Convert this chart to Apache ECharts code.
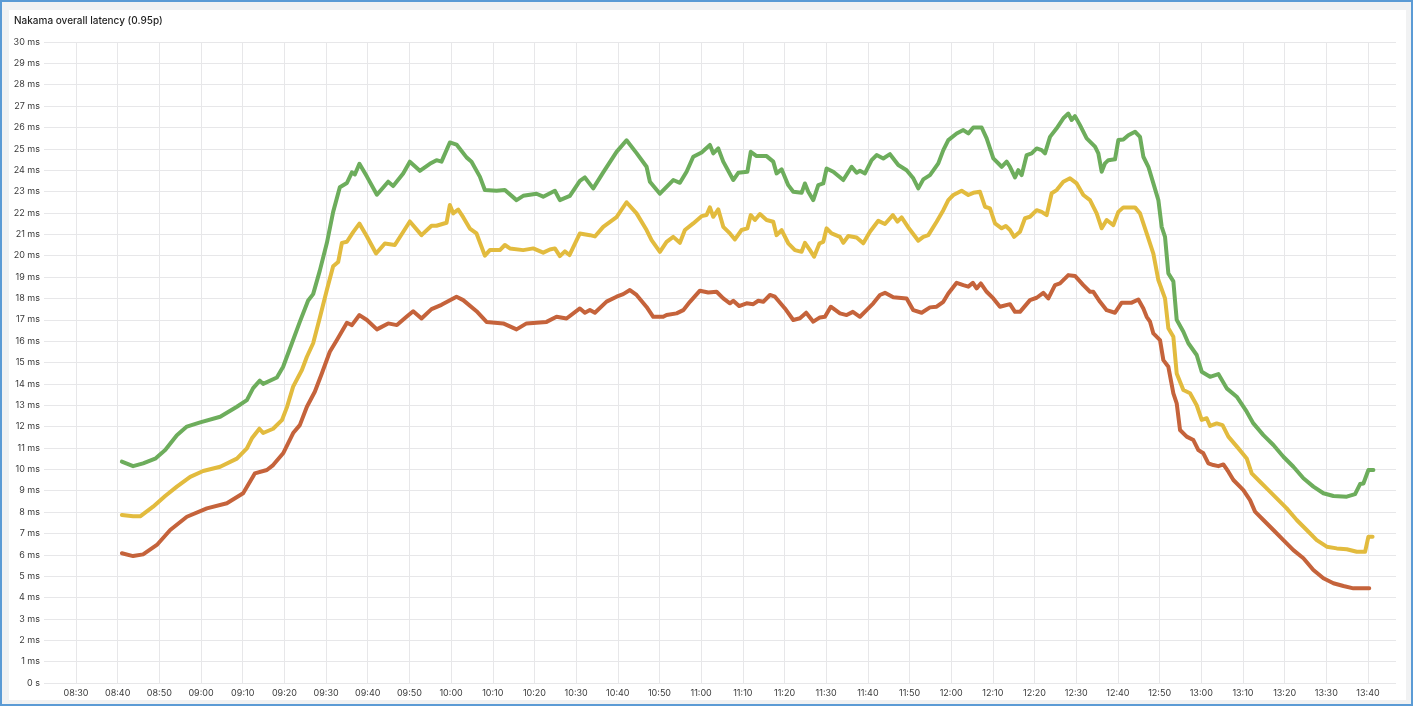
<!DOCTYPE html>
<html>
<head>
<meta charset="utf-8">
<script src="https://cdn.jsdelivr.net/npm/echarts@6/dist/echarts.min.js"></script>
<style>
  html, body { margin: 0; padding: 0; width: 1415px; height: 707px; overflow: hidden; background: #ffffff; }
  #frame { position: absolute; left: 0; top: 0; width: 1413px; height: 706px; box-sizing: border-box;
           border: 2px solid #5b9bd5; background: #f1f2f3; }
  #panel { position: absolute; left: 9px; top: 10px; width: 1397px; height: 690px; background: #ffffff; }
  #chart { position: absolute; left: 0; top: 0; width: 1415px; height: 707px; }
</style>
</head>
<body>
<div id="frame"></div>
<div id="panel"></div>
<div id="chart"></div>
<script>
// ---- data (minutes after 08:30, values in ms) ----
const titleText = 'Nakama overall latency (0.95p)';
const seriesNames = ['p95 A', 'p95 B', 'p95 C'];
const xTickLabels = ['08:30','08:40','08:50','09:00','09:10','09:20','09:30','09:40','09:50','10:00','10:10','10:20','10:30','10:40','10:50','11:00','11:10','11:20','11:30','11:40','11:50','12:00','12:10','12:20','12:30','12:40','12:50','13:00','13:10','13:20','13:30','13:40'];
const yTickLabels = ['0 s','1 ms','2 ms','3 ms','4 ms','5 ms','6 ms','7 ms','8 ms','9 ms','10 ms','11 ms','12 ms','13 ms','14 ms','15 ms','16 ms','17 ms','18 ms','19 ms','20 ms','21 ms','22 ms','23 ms','24 ms','25 ms','26 ms','27 ms','28 ms','29 ms','30 ms'];

const greenT = [11.0,13.7,16.1,19.0,21.4,24.2,26.6,29.8,34.6,38.6,41.0,42.5,44.1,44.9,48.2,49.7,51.8,53.7,55.7,56.9,58.5,60.2,61.7,63.3,65.0,66.2,66.9,68.0,69.8,72.2,74.9,76.1,78.5,80.1,82.5,84.9,86.5,87.7,89.7,91.3,93.7,94.9,96.9,98.1,100.9,102.9,105.7,107.3,110.5,112.1,114.9,116.1,118.5,120.9,122.1,124.1,126.5,129.7,132.1,134.5,136.9,137.7,140.1,143.3,144.9,146.5,148.1,150.1,152.1,152.9,154.1,155.3,157.7,158.9,161.1,161.9,163.3,165.7,167.3,168.1,169.3,170.9,172.1,174.1,174.9,175.7,176.9,178.1,179.3,180.1,181.7,184.1,186.1,187.3,188.1,189.3,190.9,192.1,193.7,195.3,197.3,199.3,200.9,202.1,203.3,204.9,206.9,208.1,209.3,211.3,212.9,214.1,215.3,217.3,218.5,220.1,222.1,223.3,224.1,225.3,226.1,226.9,228.1,229.3,230.5,231.7,232.5,233.7,235.3,236.9,238.1,238.9,239.7,240.9,242.5,244.5,245.3,246.1,246.9,247.7,249.3,250.1,251.3,252.5,254.1,255.3,256.1,257.3,258.5,259.7,260.5,261.3,262.1,263.3,264.1,265.7,266.9,268.9,270.1,272.1,274.1,276.1,278.5,280.9,282.5,284.9,287.3,289.7,292.1,294.5,296.9,299.3,301.7,304.9,306.9,308.1,308.9,310.1,311.3];
const greenV = [10.36,10.15,10.28,10.5,10.9,11.6,12.0,12.2,12.46,12.93,13.24,13.8,14.15,14.0,14.3,14.8,15.9,16.9,17.9,18.2,19.3,20.6,22.05,23.2,23.4,23.9,23.8,24.3,23.7,22.85,23.46,23.26,23.85,24.4,23.97,24.3,24.47,24.4,25.3,25.2,24.6,24.4,23.7,23.07,23.04,23.07,22.6,22.8,22.9,22.76,23.04,22.6,22.8,23.5,23.66,23.15,23.9,24.86,25.4,24.8,24.16,23.46,22.9,23.54,23.41,23.93,24.63,24.83,25.18,24.79,25.02,24.4,23.54,23.88,23.93,24.86,24.66,24.66,24.4,23.85,24.04,23.3,22.99,22.94,23.38,22.99,22.6,23.3,23.38,24.08,23.93,23.54,24.16,23.88,23.97,23.85,24.47,24.71,24.55,24.75,24.24,24.0,23.62,23.15,23.57,23.77,24.32,24.94,25.41,25.72,25.88,25.72,26.0,26.0,25.49,24.55,24.16,24.4,24.16,23.66,24.0,23.77,24.71,24.79,25.02,24.94,24.79,25.56,25.96,26.43,26.65,26.35,26.53,26.11,25.49,25.1,24.79,23.93,24.32,24.47,24.51,25.41,25.44,25.64,25.8,25.56,24.63,24.16,23.38,22.6,21.35,20.88,19.17,18.8,17.0,16.44,15.9,15.35,14.57,14.33,14.46,13.79,13.4,12.7,12.15,11.6,11.14,10.59,10.12,9.58,9.19,8.88,8.75,8.72,8.84,9.31,9.34,9.97,9.97];

const yellowT = [11.0,13.7,15.4,18.5,21.4,24.2,27.4,30.5,34.6,38.6,41.0,42.2,44.0,44.9,47.3,49.4,50.6,52.1,54.2,55.4,56.9,58.5,60.2,61.7,62.9,63.8,65.0,66.5,68.0,69.8,72.0,74.1,76.5,80.1,82.9,85.3,86.5,88.9,89.7,90.5,91.7,92.9,94.5,96.1,98.1,99.3,101.7,102.9,104.1,107.3,109.7,112.1,113.7,114.9,116.1,117.3,118.4,120.9,123.3,124.5,126.5,129.7,132.1,134.5,136.9,138.1,140.1,141.7,143.3,144.9,146.1,148.1,150.1,151.3,152.1,152.9,154.1,155.3,156.9,158.1,159.7,161.1,161.9,162.9,164.1,165.7,167.3,168.1,169.3,170.9,172.5,174.1,174.9,176.1,177.1,178.4,179.3,180.1,181.3,183.3,184.1,185.3,187.3,188.9,190.5,192.5,194.1,196.0,197.1,198.1,199.7,202.1,203.3,204.5,206.5,208.1,209.3,210.5,212.5,214.1,215.3,216.9,218.1,219.3,220.5,222.1,223.1,224.1,225.1,226.5,227.7,228.9,230.5,231.7,232.9,234.1,235.3,236.9,238.5,240.1,241.7,243.3,244.9,246.1,247.3,248.9,250.1,251.3,254.1,255.3,256.9,258.5,259.7,261.3,262.1,263.3,264.1,265.7,267.3,268.9,270.1,271.3,272.1,273.7,275.1,276.5,278.9,280.9,282.1,284.1,285.7,288.1,290.5,292.9,295.3,297.7,300.1,302.5,304.9,307.3,309.3,310.1,311.1];
const yellowV = [7.86,7.8,7.8,8.25,8.75,9.19,9.65,9.92,10.12,10.5,10.98,11.45,11.9,11.7,11.9,12.3,12.9,13.87,14.65,15.27,15.9,17.1,18.4,19.5,19.7,20.6,20.65,21.1,21.5,20.9,20.1,20.57,20.5,21.6,20.96,21.4,21.4,21.54,22.37,21.98,22.16,21.8,21.27,21.04,20.0,20.26,20.26,20.5,20.34,20.26,20.34,20.14,20.29,20.34,19.98,20.2,20.03,21.04,20.96,20.9,21.35,21.8,22.5,21.98,21.2,20.73,20.18,20.65,20.88,20.6,21.2,21.51,21.85,21.9,22.26,21.82,22.17,21.35,21.04,20.76,21.2,21.28,21.9,21.67,21.95,21.67,21.59,20.96,21.2,20.58,20.26,20.18,20.6,20.26,19.95,20.58,20.65,21.28,21.04,20.88,20.6,20.92,20.85,20.58,21.12,21.63,21.48,21.9,21.59,21.79,21.32,20.7,20.88,20.96,21.59,22.13,22.6,22.84,23.04,22.84,22.94,22.99,22.29,22.21,21.51,21.28,21.39,21.2,20.88,21.12,21.75,21.82,22.13,22.05,21.9,22.92,23.07,23.46,23.62,23.38,22.84,22.6,21.98,21.28,21.67,21.43,22.05,22.26,22.26,21.98,21.04,20.1,18.86,18.0,16.6,16.2,14.49,13.71,13.56,13.0,12.31,12.39,12.03,12.15,12.07,11.53,10.98,10.51,9.81,9.42,9.11,8.64,8.17,7.63,7.16,6.69,6.38,6.3,6.26,6.14,6.14,6.85,6.85];

const redT = [11.0,13.7,16.1,19.4,22.6,26.6,31.4,36.2,40.1,42.9,45.8,47.3,49.7,52.1,53.7,55.4,57.3,59.0,60.9,62.6,65.0,66.2,68.0,69.8,72.2,74.9,77.0,79.3,80.9,82.9,85.3,87.7,91.3,92.9,96.1,98.5,102.5,105.7,108.1,110.5,112.9,115.3,117.7,120.9,122.1,123.3,124.5,127.3,129.7,131.3,132.9,134.5,136.9,138.5,140.9,141.7,144.1,145.7,147.3,149.7,151.7,153.7,155.3,156.9,157.7,159.1,160.9,162.5,163.7,164.9,166.5,167.7,170.1,172.1,173.7,175.2,176.9,178.5,179.7,181.1,183.3,184.9,186.4,188.1,189.7,191.3,192.9,194.1,196.1,199.3,200.9,202.9,204.9,206.5,208.1,209.3,211.3,212.9,214.1,215.2,216.1,217.1,218.5,220.1,221.7,224.1,225.3,226.5,228.9,230.5,232.1,233.3,234.9,236.1,238.1,239.7,241.7,243.3,244.1,245.7,247.3,249.3,250.9,253.3,254.9,256.1,256.9,257.7,258.5,260.1,260.9,262.1,263.3,264.1,264.9,266.5,268.1,269.3,270.5,271.7,272.9,274.1,275.3,276.5,277.7,280.1,281.7,282.9,284.9,287.3,289.7,292.1,294.5,296.9,299.3,301.7,304.1,306.5,310.3];
const redV = [6.07,5.94,6.02,6.46,7.16,7.78,8.17,8.41,8.88,9.81,9.97,10.2,10.75,11.7,12.07,12.93,13.63,14.5,15.5,16.05,16.86,16.75,17.22,16.99,16.55,16.83,16.75,17.14,17.4,17.06,17.5,17.7,18.08,17.92,17.4,16.9,16.83,16.55,16.83,16.86,16.9,17.14,17.06,17.53,17.33,17.46,17.33,17.85,18.08,18.2,18.39,18.16,17.6,17.14,17.14,17.22,17.3,17.45,17.84,18.36,18.28,18.31,18.0,17.77,17.89,17.64,17.77,17.73,17.89,17.84,18.16,18.08,17.53,16.99,17.07,17.33,16.91,17.11,17.14,17.61,17.3,17.22,17.37,17.14,17.45,17.77,18.16,18.26,18.05,18.0,17.45,17.33,17.58,17.61,17.84,18.23,18.73,18.62,18.55,18.73,18.47,18.7,18.31,18.0,17.61,17.73,17.37,17.37,17.92,18.03,18.26,18.0,18.62,18.7,19.09,19.05,18.62,18.31,18.31,17.84,17.45,17.33,17.8,17.8,17.95,17.53,17.14,16.91,16.36,16.05,15.11,14.8,13.56,13.09,11.84,11.53,11.37,10.9,10.75,10.28,10.2,10.15,10.23,9.89,9.5,9.03,8.56,8.02,7.63,7.16,6.69,6.22,5.84,5.29,4.9,4.67,4.54,4.43,4.43];

// ---- chart ----
const base = new Date(2024, 0, 1, 8, 30, 0).getTime();
const MIN = 60000;
const toPts = (ts, vs) => ts.map((t, i) => [base + t * MIN, vs[i]]);
const pad = n => (n < 10 ? '0' : '') + n;
const fontFam = 'Inter, "Noto Sans", sans-serif';

const chart = echarts.init(document.getElementById('chart'), null, { renderer: 'canvas' });
const lineSeries = (name, ts, vs, color) => ({
  name, type: 'line', data: toPts(ts, vs), showSymbol: false, symbol: 'none',
  smooth: false, animation: false,
  lineStyle: { width: 4, color, cap: 'round', join: 'round' },
  itemStyle: { color }
});

chart.setOption({
  backgroundColor: 'transparent',
  animation: false,
  title: {
    text: titleText, left: 14, top: 16, padding: 0,
    textStyle: { fontFamily: fontFam, fontSize: 10, fontWeight: 500, color: '#1f1f1f' }
  },
  grid: { left: 44, right: 19, top: 42, bottom: 24, containLabel: false, outerBoundsMode: 'none' },
  xAxis: {
    type: 'time',
    min: base - 7.68 * MIN,
    max: base + 316.72 * MIN,
    minInterval: 12 * MIN,
    maxInterval: 12 * MIN,
    axisLine: { show: false },
    axisTick: { show: false },
    splitLine: { show: true, showMinLine: false, showMaxLine: false, lineStyle: { color: '#e7e7e9', width: 1 } },
    axisLabel: {
      margin: 6, fontFamily: fontFam, fontSize: 9, color: '#3a3a3a', hideOverlap: false,
      formatter: function (v) {
        const d = new Date(v);
        if (d.getSeconds() !== 0) return '';
        const s = pad(d.getHours()) + ':' + pad(d.getMinutes());
        return xTickLabels.indexOf(s) >= 0 ? s : '';
      }
    }
  },
  yAxis: {
    type: 'value', min: 0, max: 30, interval: 1,
    axisLine: { show: false },
    axisTick: { show: false },
    splitLine: { show: true, lineStyle: { color: '#e7e7e9', width: 1 } },
    axisLabel: {
      margin: 4, fontFamily: fontFam, fontSize: 9, color: '#3a3a3a',
      formatter: v => yTickLabels[Math.round(v)]
    }
  },
  series: [
    lineSeries(seriesNames[0], greenT, greenV, '#6dad5c'),
    lineSeries(seriesNames[1], yellowT, yellowV, '#e2bb3e'),
    lineSeries(seriesNames[2], redT, redV, '#c5633b')
  ]
});
</script>
</body>
</html>
